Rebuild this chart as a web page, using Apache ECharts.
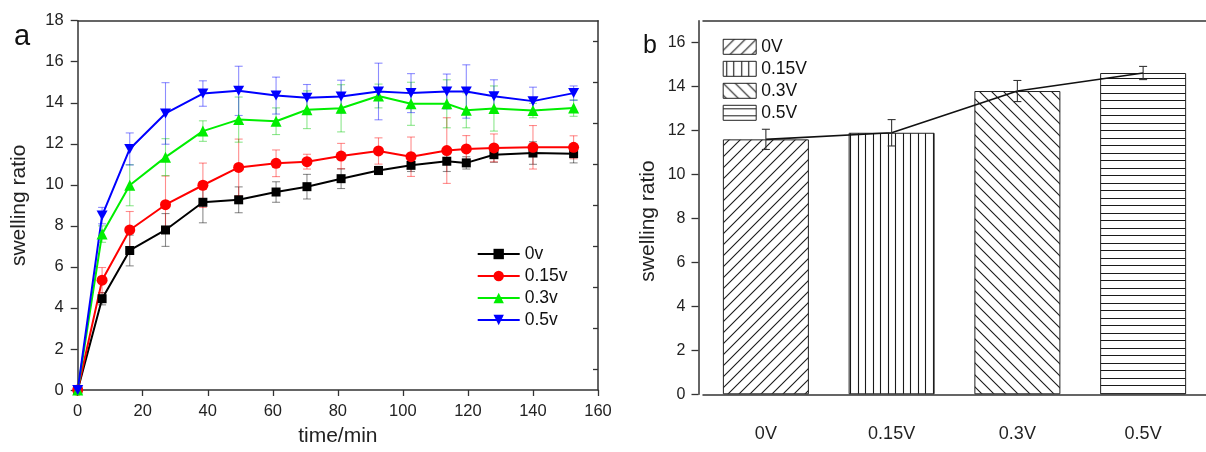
<!DOCTYPE html>
<html>
<head>
<meta charset="utf-8">
<script src="https://cdn.jsdelivr.net/npm/echarts@6/dist/echarts.min.js"></script>
<style>
html,body{margin:0;padding:0;background:#fff;}
#c{width:1206px;height:452px;}
</style>
</head>
<body>
<div id="c"></div>
<script>
// ---------- Data: panel a (swelling ratio vs time) ----------
const times = [0, 7.5, 16, 27, 38.5, 49.5, 61, 70.5, 81, 92.5, 102.5, 113.5, 119.5, 128, 140, 152.5];
const v0   = [0, 4.45, 6.8, 7.8, 9.15, 9.27, 9.65, 9.91, 10.3, 10.7, 10.95, 11.15, 11.07, 11.47, 11.55, 11.52];
const v0e  = [0, 0.3, 0.75, 0.8, 1.0, 0.63, 0.5, 0.6, 0.48, 0.2, 0.3, 0.5, 0.3, 0.37, 0.55, 0.45];
const v015  = [0, 5.35, 7.8, 9.03, 9.98, 10.85, 11.05, 11.13, 11.4, 11.65, 11.37, 11.67, 11.75, 11.8, 11.83, 11.83];
const v015e = [0, 0.62, 0.9, 1.4, 1.08, 1.38, 0.65, 0.36, 0.62, 0.64, 0.96, 1.6, 0.65, 0.68, 1.06, 0.56];
const v03  = [0, 7.6, 9.98, 11.35, 12.62, 13.18, 13.1, 13.66, 13.73, 14.33, 13.95, 13.95, 13.63, 13.72, 13.62, 13.74];
const v03e = [0, 0.4, 1.0, 0.9, 0.5, 1.1, 0.65, 0.92, 1.15, 0.58, 1.05, 1.17, 0.85, 1.1, 0.35, 0.4];
const v05  = [0, 8.5, 11.75, 13.48, 14.45, 14.58, 14.35, 14.24, 14.3, 14.55, 14.47, 14.55, 14.55, 14.32, 14.08, 14.47];
const v05e = [0, 0.4, 0.78, 1.5, 0.62, 1.2, 0.9, 0.65, 0.8, 1.38, 0.95, 0.85, 1.3, 0.8, 0.68, 0.35];
const lineNames = ['0v', '0.15v', '0.3v', '0.5v'];
const xTicks = [0, 20, 40, 60, 80, 100, 120, 140, 160];
const yTicksA = [0, 2, 4, 6, 8, 10, 12, 14, 16, 18];

// ---------- Data: panel b (bars) ----------
const barCats = ['0V', '0.15V', '0.3V', '0.5V'];
const barVals = [11.6, 11.9, 13.8, 14.62];
const barErr  = [0.46, 0.6, 0.48, 0.3];
const yTicksB = [0, 2, 4, 6, 8, 10, 12, 14, 16];

// ---------- helpers ----------
const FONT = '"Liberation Sans", Arial, sans-serif';
function hatch(type) {
  const s = type === '/' ? 11 : (type === '\\' ? 12 : 15);
  const c = document.createElement('canvas');
  c.width = s; c.height = s;
  const g = c.getContext('2d');
  g.fillStyle = '#fff'; g.fillRect(0, 0, s, s);
  g.strokeStyle = '#1a1a1a'; g.lineWidth = 1.1;
  g.beginPath();
  if (type === '/') {
    [0, s, 2 * s].forEach(k => { g.moveTo(-2, k + 2); g.lineTo(s + 2, k - s - 2); });
  } else if (type === '\\') {
    [-s, 0, s].forEach(k => { g.moveTo(-2, k - 2); g.lineTo(s + 2, k + s + 2); });
  } else if (type === '|') {
    [3.5, 10.5].forEach(x => { g.moveTo(x, 0); g.lineTo(x, s); });
  } else {
    [3.5, 10.5].forEach(y => { g.moveTo(0, y); g.lineTo(s, y); });
  }
  g.stroke();
  return { image: c, repeat: 'repeat' };
}
const patterns = [hatch('/'), hatch('|'), hatch('\\'), hatch('-')];

function errRender(color, cap) {
  return function (params, api) {
    const x = api.value(0), y = api.value(1), e = api.value(2);
    if (!e) return null;
    const t = api.coord([x, y + e]), b = api.coord([x, y - e]);
    const st = { stroke: color, lineWidth: 1.1 };
    return {
      type: 'group',
      children: [
        { type: 'line', shape: { x1: t[0], y1: t[1], x2: b[0], y2: b[1] }, style: st },
        { type: 'line', shape: { x1: t[0] - cap, y1: t[1], x2: t[0] + cap, y2: t[1] }, style: st },
        { type: 'line', shape: { x1: b[0] - cap, y1: b[1], x2: b[0] + cap, y2: b[1] }, style: st }
      ]
    };
  };
}

const lineSets = [
  { name: lineNames[0], y: v0,  e: v0e,  color: '#000000', err: 'rgba(0,0,0,0.45)',   symbol: 'rect', size: 9 },
  { name: lineNames[1], y: v015, e: v015e, color: '#ff0000', err: 'rgba(255,0,0,0.45)', symbol: 'circle', size: 11 },
  { name: lineNames[2], y: v03, e: v03e, color: '#00ee00', err: 'rgba(0,200,0,0.45)', symbol: 'triangle', size: 11 },
  { name: lineNames[3], y: v05, e: v05e, color: '#0000ff', err: 'rgba(0,0,255,0.45)', symbol: 'path://M0,0 L10,0 L5,9 Z', size: [11, 10] }
];

const series = [];
lineSets.forEach(s => {
  series.push({
    type: 'custom', xAxisIndex: 0, yAxisIndex: 0, z: 1, silent: true,
    renderItem: errRender(s.err, 4),
    encode: { x: 0, y: 1 },
    data: times.map((t, i) => [t, s.y[i], s.e[i]])
  });
});
lineSets.forEach(s => {
  series.push({
    type: 'line', name: s.name, xAxisIndex: 0, yAxisIndex: 0, z: 3,
    data: times.map((t, i) => [t, s.y[i]]),
    symbol: s.symbol, symbolSize: s.size, showAllSymbol: true,
    itemStyle: { color: s.color },
    lineStyle: { color: s.color, width: 2 },
    animation: false
  });
});
barCats.forEach((c, k) => {
  series.push({
    type: 'bar', name: c, xAxisIndex: 2, yAxisIndex: 2,
    barWidth: 86, barGap: '-100%',
    data: barVals.map((v, i) => (i === k ? v : '-')),
    itemStyle: { color: patterns[k], borderColor: '#222', borderWidth: 1 },
    animation: false
  });
});
series.push({
  type: 'line', name: 'mean', xAxisIndex: 2, yAxisIndex: 2, z: 5,
  data: barVals, symbol: 'none',
  lineStyle: { color: '#111', width: 1.6 }, animation: false
});
series.push({
  type: 'custom', xAxisIndex: 2, yAxisIndex: 2, z: 6, silent: true,
  renderItem: errRender('#333', 4),
  encode: { x: 0, y: 1 },
  data: barCats.map((c, i) => [c, barVals[i], barErr[i]])
});

const axisLine = { show: true, onZero: false, lineStyle: { color: '#333', width: 1.5 } };
const tickStyle = { color: '#333', width: 1.3 };

const option = {
  animation: false,
  textStyle: { fontFamily: FONT },
  grid: [
    { left: 77.7, right: 608, top: 20.7, bottom: 57 },
    { left: 703, right: -9, top: 20.7, bottom: 57.7 }
  ],
  xAxis: [
    { gridIndex: 0, type: 'value', min: xTicks[0], max: xTicks[xTicks.length - 1], interval: 20,
      axisLine: axisLine, axisTick: { show: true, length: 6, lineStyle: tickStyle },
      axisLabel: { fontSize: 16.5, color: '#222', margin: 13 },
      splitLine: { show: false },
      name: 'time/min', nameLocation: 'middle', nameGap: 36,
      nameTextStyle: { fontSize: 21, color: '#222' } },
    { gridIndex: 0, type: 'value', position: 'top', min: 0, max: 160,
      axisLine: axisLine, axisTick: { show: false }, axisLabel: { show: false }, splitLine: { show: false } },
    { gridIndex: 1, type: 'category', data: barCats,
      axisLine: axisLine, axisTick: { show: false },
      axisLabel: { fontSize: 18, color: '#222', margin: 31 }, splitLine: { show: false } },
    { gridIndex: 1, type: 'value', position: 'top', min: 0, max: 1,
      axisLine: axisLine, axisTick: { show: false }, axisLabel: { show: false }, splitLine: { show: false } }
  ],
  yAxis: [
    { gridIndex: 0, type: 'value', min: yTicksA[0], max: yTicksA[yTicksA.length - 1], interval: 2,
      axisLine: axisLine, axisTick: { show: true, length: 7, lineStyle: tickStyle },
      axisLabel: { fontSize: 16.5, color: '#222', margin: 14 },
      splitLine: { show: false },
      name: 'swelling ratio', nameLocation: 'middle', nameGap: 48,
      nameTextStyle: { fontSize: 21, color: '#222' } },
    { gridIndex: 0, type: 'value', position: 'right', min: 0, max: 18, interval: 2,
      axisLine: axisLine, axisTick: { show: false, inside: true },
      minorTick: { show: true, splitNumber: 2, length: 5, lineStyle: tickStyle },
      axisLabel: { show: false }, splitLine: { show: false }, minorSplitLine: { show: false } },
    { gridIndex: 1, type: 'value', min: yTicksB[0], max: 17, interval: 2, offset: 4.5,
      axisLine: axisLine, axisTick: { show: true, length: 7, lineStyle: tickStyle },
      axisLabel: { fontSize: 16, color: '#222', margin: 13, showMaxLabel: false,
        formatter: v => (yTicksB.indexOf(v) >= 0 ? String(v) : '') },
      splitLine: { show: false } }
  ],
  legend: [
    { data: lineNames, orient: 'vertical', left: 476.7, top: 243, padding: 0,
      itemWidth: 42, itemHeight: 13, itemGap: 0,
      textStyle: { fontSize: 17.5, color: '#111', lineHeight: 22 } },
    { data: barCats, orient: 'vertical', left: 722.7, top: 35.8, padding: 0,
      itemWidth: 33, itemHeight: 15, itemGap: 0, icon: 'rect',
      itemStyle: { borderColor: '#222', borderWidth: 1 },
      textStyle: { fontSize: 17.5, color: '#111', lineHeight: 22 } }
  ],
  graphic: [
    { type: 'text', left: 14, top: 22, style: { text: 'a', fontSize: 29, fill: '#111', fontFamily: FONT } },
    { type: 'text', left: 643, top: 34, style: { text: 'b', fontSize: 25, fill: '#111', fontFamily: FONT } },
    { type: 'text', x: 648, y: 221, rotation: Math.PI / 2,
      style: { text: 'swelling ratio', fontSize: 21, fill: '#222', fontFamily: FONT, align: 'center', verticalAlign: 'middle' } }
  ],
  series: series
};

const chart = echarts.init(document.getElementById('c'), null, { renderer: 'canvas' });
chart.setOption(option);
</script>
</body>
</html>
